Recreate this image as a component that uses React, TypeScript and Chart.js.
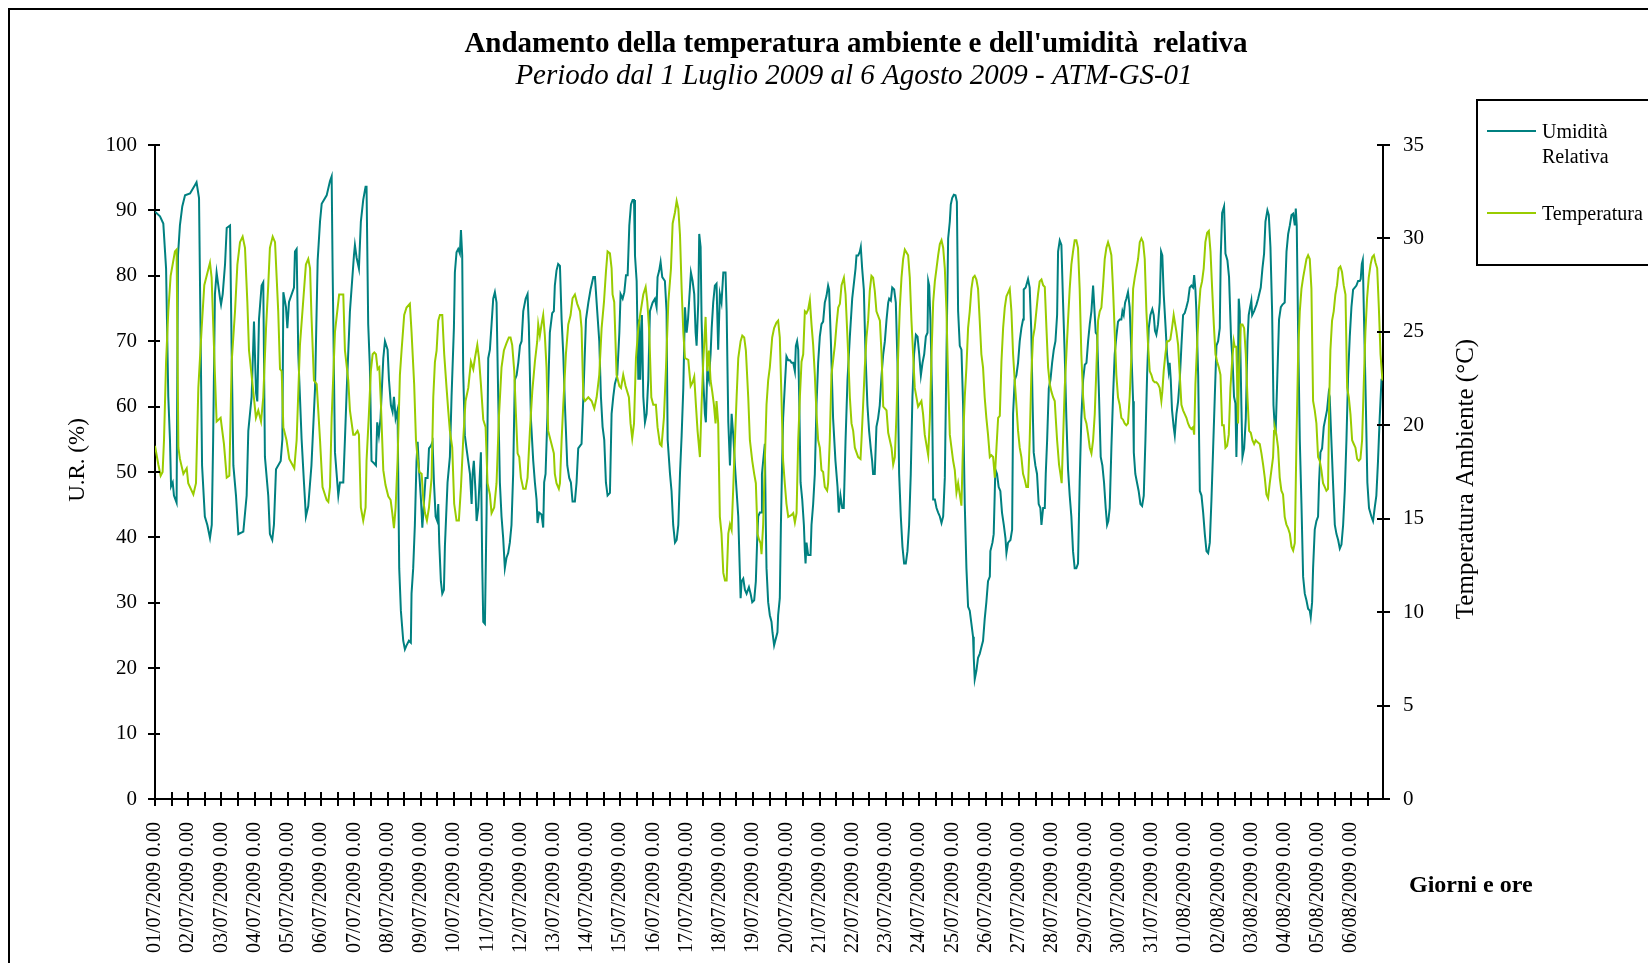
import React, { useEffect, useRef } from "react";
import { Chart, registerables } from "chart.js";

Chart.register(...registerables);

const FONT = "'Liberation Serif', 'Times New Roman', serif";
const TEAL = "#008080";
const LIME = "#99CC00";

const TITLE = "Andamento della temperatura ambiente e dell'umidità  relativa";
const SUBTITLE = "Periodo dal 1 Luglio 2009 al 6 Agosto 2009 - ATM-GS-01";
const RH_LABEL = "Umidità";
const RH_LABEL2 = "Relativa";
const T_LABEL = "Temperatura";
const X_TITLE = "Giorni e ore";
const Y_TITLE = "U.R. (%)";
const Y1_TITLE = "Temperatura Ambiente (°C)";

const dayLabels = [
  "01/07/2009 0.00", "02/07/2009 0.00", "03/07/2009 0.00", "04/07/2009 0.00",
  "05/07/2009 0.00", "06/07/2009 0.00", "07/07/2009 0.00", "08/07/2009 0.00",
  "09/07/2009 0.00", "10/07/2009 0.00", "11/07/2009 0.00", "12/07/2009 0.00",
  "13/07/2009 0.00", "14/07/2009 0.00", "15/07/2009 0.00", "16/07/2009 0.00",
  "17/07/2009 0.00", "18/07/2009 0.00", "19/07/2009 0.00", "20/07/2009 0.00",
  "21/07/2009 0.00", "22/07/2009 0.00", "23/07/2009 0.00", "24/07/2009 0.00",
  "25/07/2009 0.00", "26/07/2009 0.00", "27/07/2009 0.00", "28/07/2009 0.00",
  "29/07/2009 0.00", "30/07/2009 0.00", "31/07/2009 0.00", "01/08/2009 0.00",
  "02/08/2009 0.00", "03/08/2009 0.00", "04/08/2009 0.00", "05/08/2009 0.00",
  "06/08/2009 0.00",
];

// Hours since 01/07/2009 0.00 and relative humidity (%)
const rhHours = [
  0, 3.6, 6, 8, 9.6, 10.8, 11.6, 12.8, 13.7, 15.6, 16.6, 18, 19.7, 21.7, 25.3, 28.9, 30, 31.8, 34, 36,
  37.8, 39.7, 41, 42, 43.3, 44.5, 47, 47.7, 48.9, 50.6, 51.8, 54.2, 55.4, 56.6, 58.5, 60.2, 63.8, 66.2, 67.4, 69.8,
  71.5, 73, 73.9, 75.1, 77, 78.2, 79.4, 81.8, 83, 84.7, 85.9, 87.4, 90.8, 92, 92.7, 94.6, 95.6, 96.8, 100.4, 101.1,
  102.3, 103.5, 105.9, 107.6, 109, 110.7, 113, 115.6, 117.5, 119.2, 120.4, 124, 126.4, 127.6, 128.3, 130, 132.4, 133.6, 136, 137.2,
  138.4, 140.8, 143.7, 144.4, 145.6, 147.3, 148.7, 150.4, 152.1, 152.8, 154, 155.2, 156.4, 158.4, 159.6, 160.5, 161.7, 162.9, 164.9, 166.1,
  168, 169, 170.4, 171.6, 172.6, 173.8, 175.2, 176.4, 177.6, 179.3, 180.5, 181.7, 183.4, 184.8, 185.3, 186.5, 187.7, 188.9, 189.7, 190.9,
  192.1, 193.1, 194.2, 195.4, 196.9, 197.9, 199.3, 200.5, 201.5, 202.7, 203.9, 204.6, 205.3, 206.5, 207.5, 208.7, 209.4, 211.3, 213, 214.2,
  215.9, 216.6, 217.8, 219, 220.2, 221, 221.9, 222.6, 223.8, 225, 227.5, 228.7, 229.4, 230.3, 231.5, 232.3, 233.5, 235.4, 236.4, 237.1,
  238.3, 239.5, 240.7, 241.9, 243.1, 244.3, 245.5, 246.7, 247.9, 249.1, 250.3, 251.5, 252.7, 253.9, 255.1, 256.3, 257.5, 258.7, 259.9, 261.2,
  262.4, 263.6, 264.8, 266, 267.7, 269.1, 270, 271.5, 273.2, 274.4, 275.6, 276.3, 277.5, 279.2, 280.4, 281.1, 282.1, 283.5, 285.2, 286.9,
  288.1, 288.8, 290, 291.2, 292.5, 293.7, 294.9, 296.1, 297.8, 299.2, 300.4, 301.6, 303.3, 304.5, 305.7, 307, 308.1, 309.4, 311.3, 313,
  314.6, 316.6, 317.8, 319, 320.9, 322.1, 323.3, 324.5, 325.7, 326.9, 328.6, 329.8, 331, 332.2, 333.9, 335.4, 336.3, 337.8, 339, 340.2,
  341.4, 342.6, 343.8, 345, 346, 346.7, 347.9, 349.1, 349.8, 350.5, 351.7, 352.7, 353.9, 355.1, 356.3, 357.5, 359.4, 361.1, 362.3, 363,
  364.2, 365.2, 366.4, 368.3, 369.5, 370.3, 372, 373.1, 374.3, 375.6, 376.8, 378, 379.2, 380.4, 381.6, 382.8, 384, 385, 385.9, 387.1,
  388.3, 389.5, 390.5, 391.2, 392.4, 393.1, 394.1, 394.8, 396, 397.2, 397.9, 398.9, 400.1, 401.3, 402.1, 403.2, 404.4, 405.6, 406.8, 408,
  409.2, 410.5, 412.1, 412.9, 414.1, 415.3, 416.5, 417.7, 418.9, 420.1, 421.3, 422, 423, 423.7, 424.9, 426.1, 427.3, 429, 430.2, 431.4,
  432.8, 434, 435, 435.7, 436.9, 437.9, 438.4, 439.3, 440.5, 441.2, 441.7, 442.9, 444.1, 445.3, 446, 447.2, 448.4, 449.6, 450.1, 451.3,
  452.1, 453, 453.7, 455, 456.1, 457.4, 458.6, 459.8, 461, 462.2, 462.9, 463.8, 464.6, 465.3, 466.3, 467.5, 468.7, 469.4, 469.9, 470.6,
  471.8, 473.5, 474.2, 475.4, 476.6, 477.8, 479, 480.2, 481.4, 482.6, 483.8, 485, 486.2, 486.9, 488.2, 489.8, 491.5, 493, 493.9, 495.1,
  496.4, 497.5, 498.8, 500.2, 501.9, 503.6, 505, 506, 506.7, 507.9, 509.1, 509.8, 510.8, 512, 513.2, 514.6, 515.8, 517, 518, 518.7,
  519.9, 521.1, 522.3, 523.5, 524.8, 526, 527.2, 528.4, 529.6, 530.3, 531.5, 532.5, 533.9, 535.1, 536.3, 537.5, 538.7, 539.9, 541.1, 542.3,
  543.5, 544.7, 545.9, 547.1, 548.3, 549.6, 550.8, 552, 553.2, 554.4, 555.6, 556.8, 558, 558.5, 559.2, 560.1, 561.3, 562.1, 563.3, 564.5,
  565.7, 566.9, 568.1, 569.3, 570.5, 571.7, 572.9, 574.1, 574.8, 575.8, 577, 578.2, 579.2, 580.1, 581.3, 582.5, 583.7, 584.9, 586.1, 587.3,
  588.5, 589.7, 590.9, 591.4, 592.1, 593.3, 594.5, 595.7, 596.9, 598.1, 599.3, 600.5, 601.7, 603, 603.4, 604.9, 605.8, 606.6, 607, 608.2,
  609.4, 610.6, 611.8, 613.1, 614.3, 615, 616.2, 617.9, 619.1, 619.8, 621, 622.2, 623.4, 624.6, 625.8, 627, 627.5, 628.9, 630.6, 631.8,
  633, 633.8, 634.7, 635.9, 637.1, 638.3, 639.5, 640.3, 641.5, 642.7, 643.4, 644.4, 645.6, 646.8, 648, 649.2, 650.4, 651.6, 652.3, 653.5,
  654.7, 655.9, 657.1, 658.3, 659.5, 660.7, 661.9, 663.1, 664.3, 665.5, 666.7, 667.9, 669.1, 670.4, 671.6, 672.8, 674, 675.2, 676.4, 677.6,
  678.3, 679.5, 680.5, 681.9, 683.1, 684.3, 685.5, 686.7, 687.7, 688.6, 689.6, 690.8, 692, 693.2, 694.4, 695.6, 696.8, 698, 698.8, 699.7,
  700.7, 701.6, 702.8, 704, 705.3, 706.5, 707, 708.1, 709.3, 710.5, 711.8, 713, 714.2, 715.4, 716.6, 717.8, 719, 720.4, 721.4, 722.3,
  723.3, 724.5, 725.7, 726.7, 727.6, 728.6, 730, 731, 732.2, 732.9, 733.7, 734.6, 735.8, 736.6, 737.8, 739, 740.2, 741.4, 742.6, 743.8,
  745, 746.2, 747.4, 748.6, 749.8, 750.6, 751.5, 752.2, 753.5, 754.7, 755.9, 757.1, 758.3, 759.5, 760.7, 761.9, 763.1, 764.3, 765.5, 766.7,
  767.9, 769.1, 769.8, 770.8, 772.2, 773.2, 774.6, 775.8, 777.2, 778.4, 779.4, 780.4, 781.1, 781.9, 782.8, 783.5, 784.7, 785.5, 786.7, 787.9,
  789.1, 790, 791, 791.9, 792.5, 793.9, 795.6, 796.8, 798.7, 799.9, 801.1, 802.1, 803.5, 804.5, 805.7, 806.9, 807.9, 808.8, 809.5, 810.7,
  811.9, 813.2, 814.4, 816, 817.3, 818.5, 819.7, 820.9, 822.1, 823.3, 824, 824.7, 825.7, 826.9, 828.1, 829.3, 830.5, 831.7, 832.9, 834.1,
  834.8, 835.8, 836.5, 837.7, 838.9, 840.1, 840.8, 841.8, 843, 844.2, 845.4, 846.6, 847.8, 848.5, 849.7, 850.9, 852.2, 853.4, 854.6, 855.8,
  857, 858.2, 859.4, 860.6, 861.8, 863, 864.2, 865.4, 866.6, 867.8, 869, 870.2, 870.9, 871.7, 872.4, 873.3, 874.5, 875.7, 876.9, 878.6,
  879.8, 881, 882.2, 883.4, 884.6, 885.9, 886.6,
];
const rhValues = [
  89.8, 89.1, 88, 81.1, 61.5, 55, 47.8, 48.4, 46.4, 45.3, 83.1, 87.7, 90.6, 92.3, 92.6, 93.9, 94.3, 91.9, 51, 43.2,
  41.9, 39.9, 41.9, 54.9, 77.2, 80.5, 76.5, 75.6, 77.2, 81.8, 87.3, 87.7, 68, 51, 46.4, 40.5, 40.9, 46.4, 56.3, 61.5,
  73, 62.1, 60.8, 73.3, 78.5, 79, 52.3, 46.4, 40.5, 39.6, 41.9, 50.4, 51.7, 55, 77.5, 75.2, 72, 76, 78.2, 83.7,
  84.1, 68, 55, 48.4, 43.2, 44.8, 51, 62.8, 82.4, 88.3, 91, 92.3, 94.5, 95.2, 81, 53, 46.4, 48.4, 48.4, 55,
  62.1, 74.6, 83.1, 84.7, 82.8, 81.1, 88.3, 91.6, 93.6, 93.6, 72.6, 66.1, 51.7, 51.3, 51, 57.6, 55.6, 58.2, 67.4, 70,
  68.7, 64.1, 60.2, 59.2, 61.5, 58.2, 59.5, 35.3, 28.8, 24.2, 22.9, 23.5, 24.2, 23.9, 31.4, 35.3, 41.9, 51.7, 54.6, 49.7,
  45.8, 41.5, 45.1, 49.1, 49.1, 53.6, 54, 54.6, 48.4, 43.2, 42.5, 45.1, 39.2, 33.3, 31.4, 32, 38.6, 48.4, 52.3, 61.5,
  72, 80.5, 83.6, 84.1, 83.4, 87, 83.1, 65.4, 55.6, 53.6, 49.7, 45.1, 49.7, 51.7, 47.1, 42.5, 44.5, 53, 35.3, 27.1,
  26.8, 43.8, 67.4, 68.7, 72.6, 76.5, 77.5, 75.9, 61.5, 48.4, 43.2, 39.9, 35.3, 36.9, 37.6, 39.2, 41.9, 49.7, 64.1, 64.8,
  66.7, 69.3, 70, 74.6, 76.5, 77.2, 72.6, 58.2, 51.7, 48.4, 45.8, 42.2, 43.8, 43.5, 41.5, 48.4, 49.7, 58.9, 71.3, 74.3,
  74.6, 78.5, 80.8, 81.8, 81.5, 73.3, 68, 60.2, 51, 49.1, 48.4, 45.5, 45.5, 48.4, 53.6, 54, 54.3, 61.5, 73.3, 75.9,
  77.9, 79.8, 79.8, 75.9, 70, 61.5, 56.9, 54.9, 48.4, 46.4, 46.8, 58.9, 61.5, 63.5, 64.8, 71.3, 77.2, 76.5, 77.5, 80.1,
  80.1, 87.7, 90.9, 91.6, 91.6, 83.1, 79.2, 64.1, 73.3, 64.1, 74, 61.5, 57.6, 58.9, 64.1, 74.6, 75.9, 76.5, 75.2, 79.8,
  80.8, 82.1, 79.8, 79.2, 74.6, 54.9, 49.7, 47.1, 41.9, 39.2, 39.6, 41.9, 49.7, 55.6, 62.8, 75.2, 71.3, 73.3, 76.5, 80.5,
  79.2, 77.2, 71.3, 69.3, 75.9, 86.4, 84.4, 73.3, 64.1, 58.9, 57.6, 65.4, 64.1, 68, 72, 75.9, 78.5, 78.8, 68.7, 77.2,
  75.9, 80.5, 80.5, 74.6, 57.6, 51, 58.9, 55.6, 51, 47.1, 43.2, 37.9, 30.7, 33.3, 33.7, 32, 31.4, 32.4, 31.4, 30.1,
  30.4, 33.3, 39.9, 43.2, 43.8, 43.8, 49.7, 51.7, 54.3, 41.9, 35.3, 30.1, 28.1, 27.1, 25.5, 23.5, 24.5, 25.5, 28.1, 30.7,
  41.9, 51.7, 58.2, 63.5, 67.7, 67.1, 67.1, 66.7, 66.7, 65.4, 69.3, 70, 68.7, 61.5, 48.4, 45.8, 41.9, 37.9, 36, 39.2,
  37.3, 37.3, 41.9, 45.1, 49.7, 60.2, 66.7, 70.7, 72.6, 73, 75.9, 76.9, 78.5, 77.9, 70, 58.2, 51.7, 47.7, 43.8, 46.4,
  44.5, 44.5, 54.9, 64.1, 70.7, 76.5, 79.2, 81.1, 83.1, 83.1, 83.7, 84.4, 81.1, 77.9, 68, 60.2, 56.3, 53.6, 51.7, 49.7,
  49.7, 56.9, 58.2, 60.2, 64.8, 68, 70, 73.3, 75.9, 76.5, 76.2, 78.2, 77.9, 75.9, 66.7, 49.7, 43.2, 38.6, 36, 36,
  37.9, 41.9, 49.7, 61.5, 68, 71, 70.7, 68, 64.8, 66.7, 68, 70.7, 71.3, 79.2, 78.5, 73.3, 61.5, 45.8, 45.8, 44.5,
  43.8, 43.2, 42.2, 43.2, 49.1, 68, 85.7, 88.3, 90.9, 91.9, 92.4, 92.3, 91.3, 74.6, 69.3, 68.7, 60.2, 45.1, 35.3, 29.4,
  28.8, 26.8, 24.8, 21.6, 18.3, 19.6, 21.6, 22.2, 23.2, 24.2, 27.5, 30.1, 33.3, 34, 37.9, 39.2, 40.5, 47.1, 50.4, 49.7,
  47.7, 47.1, 43.8, 41.9, 39.9, 37.6, 39.2, 39.6, 41.2, 58.9, 64.1, 64.8, 66.7, 70, 72, 73.3, 77.9, 78.2, 79.5, 78.2,
  71.3, 61.5, 53, 51, 49.7, 45.1, 44.5, 41.9, 44.5, 44.5, 49.7, 54.9, 62.8, 64.1, 66.7, 68.7, 70, 74, 83.7, 85.4,
  84.7, 75.9, 68, 58.2, 50.4, 46.4, 43.2, 37.9, 35.3, 35.3, 36, 48.4, 58.2, 64.1, 66.4, 66.7, 70, 72.6, 74.6, 78.5,
  75.9, 71.3, 71, 61.5, 52.3, 51, 48.4, 44.5, 41.9, 42.5, 44.5, 53.6, 61.5, 68, 70.7, 73, 73.3, 73.3, 74.6, 74,
  75.9, 76.5, 77.5, 75.2, 68, 60.8, 53, 49.7, 48.4, 47.1, 45.1, 44.8, 46.4, 54.9, 64.8, 72, 74, 74.9, 74, 71.6,
  71, 72.6, 75.9, 83.7, 83.1, 77.2, 72, 68, 65.4, 66.7, 64.1, 59.5, 56.9, 55.6, 58.9, 60.8, 64.1, 69.3, 74, 74.3,
  75.2, 76.2, 78.2, 78.5, 78.2, 80.1, 77.9, 74.6, 64.8, 47.1, 46.4, 43.8, 40.5, 37.9, 37.6, 39.2, 45.8, 53.6, 61.5, 69.3,
  70, 72, 83.1, 89.6, 90.6, 83.4, 82.4, 79.8, 70.7, 66.7, 61.5, 60.5, 52.3, 60.2, 76.5, 74.6, 60.2, 52.3, 53.6, 58.2,
  70, 74, 75.2, 76.2, 74, 74.6, 75.6, 76.5, 78.2, 81.1, 83.4, 88.3, 90, 89.3, 84.4, 74.6, 60.2, 56.9, 56.3, 64.8,
  73.3, 75.2, 75.6, 75.9, 83.7, 86.4, 87.7, 89.3, 89.5, 87.7, 90.3, 87.7, 71.3, 54.9, 45.1, 34, 31.4, 30.4, 29.1, 28.8,
  27.8, 30.1, 35.3, 41.2, 42.5, 43.2, 48.4, 53, 53.6, 56.9, 58.2, 59.5, 62.1, 61.5, 54.9, 48.4, 41.9, 40.5, 39.6, 38.3,
  38.9, 41.9, 47.1, 54.9, 64.8, 70.7, 75.2, 77.9, 78.2, 78.5, 79.2, 79.2, 79.5, 81.8, 82.4, 73.3, 61.5, 48.4, 44.5, 43.2,
  42.5, 44.5, 46.4, 51.7, 58.2, 64.1, 64.1,
];

// Hours since 01/07/2009 0.00 and ambient temperature (°C)
const tempHours = [
  0, 2.4, 4.1, 5.5, 6.5, 8, 9.6, 11.3, 14.4, 15.6, 16.9, 18, 20.5, 22.9, 24, 27.7, 29.6, 31.3, 33.7, 35.6,
  39.7, 40.9, 43.3, 44.5, 47.4, 49.8, 51.8, 53.7, 55.4, 57.8, 59.5, 61.4, 63.3, 65, 66.7, 67.9, 71, 72.9, 74.6, 76.6,
  78.2, 80.2, 81.8, 83, 85, 86.7, 89, 90.3, 91.5, 92.7, 95, 97, 100.6, 102.3, 104.7, 107, 109, 110.7, 112, 113,
  114.8, 116.8, 119.2, 121, 124, 125.2, 126.4, 127.6, 130, 133, 136, 137.2, 139.6, 140.8, 143.2, 144.4, 146.3, 147.3, 148.7, 150.4,
  152.1, 152.8, 154.5, 155.9, 157.2, 158.4, 159.6, 160.8, 162, 163.2, 164.9, 166.5, 168.5, 170.2, 171.4, 172.6, 173.8, 175.2, 176.9, 178.1,
  180, 181.7, 184.1, 185.3, 187.2, 188.5, 189.7, 190.9, 192.6, 193.8, 195, 196.4, 197.9, 199.8, 201, 202.2, 203.4, 204.6, 205.8, 207.5,
  208.9, 210.6, 211.8, 213, 214.7, 216.1, 217.8, 219.5, 221, 222.6, 224.3, 226.3, 228.2, 229.9, 231.1, 232.8, 234, 235.4, 237.1, 238.8,
  240.2, 241.9, 243.1, 245, 246.7, 248.4, 250.3, 252, 253.9, 255.6, 256.8, 258, 259.5, 260.7, 261.9, 263.1, 264.3, 266, 267.7, 269.1,
  270.8, 272.5, 274.4, 276.1, 276.8, 278, 279.2, 280.4, 281.6, 282.8, 284, 286.4, 288.1, 288.8, 290, 291.7, 292.5, 293.7, 294.9, 296.8,
  298.5, 300.2, 301.6, 303.3, 305, 307, 308.1, 309.4, 310.6, 313, 315.4, 317.3, 319, 320.9, 322.6, 324.3, 325.7, 326.9, 328.6, 329.8,
  330.5, 331.7, 333.4, 335.4, 336.6, 338.2, 339.9, 341.1, 342.3, 343.5, 344.7, 346, 347.4, 349.1, 350.8, 352.7, 354.4, 355.6, 357, 358.5,
  359.9, 361.8, 363, 364.7, 365.9, 367.6, 369.1, 370.8, 372.7, 373.9, 375.6, 376.8, 378, 379.2, 380.4, 381.6, 382.8, 385.2, 386.9, 388.3,
  389.5, 390.7, 391.9, 393.6, 394.8, 396, 397.7, 398.9, 400.1, 401.3, 402.5, 403.7, 404.9, 405.6, 406.8, 408, 409.2, 410.5, 411.7, 412.9,
  414.1, 415.3, 416.5, 417.7, 418.9, 420.1, 421.3, 423, 424.2, 425.6, 426.8, 428.5, 429.7, 431.4, 432.8, 434, 435.2, 436.2, 437.4, 438.1,
  439.3, 440.5, 441.7, 442.9, 444.1, 445.8, 447.2, 448.9, 450.1, 451.3, 452.5, 453.7, 454.9, 456.1, 457.4, 459.8, 461, 462.2, 463.4, 464.6,
  465.8, 467, 468.2, 469.4, 470.6, 471.8, 473, 474.2, 475.4, 476.6, 477.8, 479, 480.2, 481.4, 482.6, 483.8, 485.5, 486.2, 487.4, 488.6,
  491.1, 492.3, 493.5, 494.7, 495.9, 497.6, 498.8, 500.7, 501.9, 503.1, 504.3, 505.5, 507.9, 509.6, 510.3, 511.5, 512.7, 513.9, 515.1, 516.3,
  517.5, 518.7, 519.9, 521.1, 523.6, 524.8, 526, 528.4, 529.6, 532, 533.2, 534.4, 535.6, 536.8, 538, 539.2, 540.4, 541.6, 544, 545.2,
  546.4, 547.6, 548.8, 551.2, 553.6, 554.8, 556, 558.5, 559.7, 560.9, 562.1, 563.3, 564.5, 565.7, 566.9, 568.1, 569.3, 570.5, 571.7, 572.9,
  574.1, 576.5, 577.7, 578.9, 580.1, 581.3, 582.5, 583.7, 584.9, 586.1, 587.3, 588.5, 589.7, 590.9, 592.1, 593.3, 594.5, 595.7, 596.9, 598.1,
  599.3, 600.5, 601.7, 603, 604.1, 605.4, 606.6, 607.8, 609, 610.2, 611.4, 612.6, 613.8, 615, 616.2, 617.4, 618.6, 619.8, 621, 622.2,
  623.4, 624.6, 625.8, 627, 628.2, 629.4, 630.6, 631.8, 633, 634.2, 635.4, 636.6, 637.8, 639, 640.3, 641.5, 642.7, 643.9, 645.1, 646.3,
  647.5, 648.7, 649.9, 650.6, 651.6, 653, 654, 654.9, 655.9, 657.1, 658.3, 659.5, 660.7, 661.9, 663.1, 664.3, 665.5, 666.7, 667.9, 669.1,
  670.4, 671.6, 672.8, 674, 675.2, 676.4, 677.6, 678.8, 680, 681.2, 682.4, 683.6, 684.8, 686, 687.2, 688.4, 689.6, 690.8, 692, 693.2,
  694.4, 695.6, 696.8, 698, 699.2, 700.4, 701.6, 702.8, 704, 705.3, 706.5, 707.7, 708.9, 710.1, 711.3, 712.5, 713.7, 714.9, 716.1, 717.3,
  718.5, 719.7, 720.9, 722.1, 723.3, 724.5, 725.7, 726.9, 727.6, 728.6, 729.8, 731, 732.2, 733.4, 734.6, 735.8, 737.8, 739, 740.2, 741.4,
  742.6, 743.8, 745, 746.2, 747.4, 748.6, 749.8, 750.6, 751.5, 752.7, 753.9, 755.1, 756.3, 757.5, 758.7, 760, 761.2, 762.4, 763.6, 764.8,
  766, 767.2, 768.4, 769.6, 770.8, 772, 773.2, 774.4, 775.6, 776.8, 778, 779.2, 779.9, 781.1, 782.3, 783, 784.3, 785.5, 786.7, 787.9,
  789.1, 790.3, 791.5, 792.7, 793.9, 795.1, 796.3, 798, 799.2, 800.4, 801.6, 802.8, 804, 805.2, 806.4, 807.6, 808.3, 808.8, 810, 811.2,
  812.4, 813.6, 814.8, 816, 817.2, 818.4, 819.7, 820.9, 822.1, 823.3, 824.5, 825.7, 826.9, 828.1, 829.3, 830.5, 831.7, 832.9, 834.1, 835.3,
  836.5, 837.7, 838.9, 840.1, 841.3, 842.5, 843.7, 844.9, 846.1, 847.3, 848.1, 849, 850.2, 851.4, 852.6, 853.8, 855, 856.2, 857.4, 858.6,
  859.9, 861.1, 862.3, 863.5, 864.7, 865.9, 867.1, 868.3, 869.5, 870.7, 871.9, 873.1, 874.3, 875.5, 876.7, 878, 879.2, 880.4, 881.6, 882.8,
  884, 885.2, 886.6,
];
const tempValues = [
  18.9, 17.9, 17.3, 17.5, 19.2, 23.4, 26.1, 28, 29.3, 29.4, 18.8, 18.2, 17.4, 17.7, 16.9, 16.3, 16.9, 22, 25.2, 27.5,
  28.7, 27.9, 22.7, 20.2, 20.4, 19, 17.2, 17.3, 23.4, 26.1, 28.6, 29.8, 30.1, 29.5, 26.6, 24, 21.8, 20.4, 20.8, 20.2,
  21.5, 25.2, 27.5, 29.5, 30.1, 29.8, 26.1, 23, 22.9, 19.9, 19.2, 18.2, 17.7, 19.2, 24.3, 26.6, 28.6, 28.9, 28.4, 25.9,
  22.4, 22.2, 19.2, 16.7, 16, 15.9, 16.7, 20.4, 25, 27, 27, 24, 22.4, 20.8, 19.5, 19.5, 19.7, 19.5, 15.6, 14.9,
  15.6, 18.1, 20.6, 22.9, 23.8, 23.9, 23.8, 23, 23.1, 21.1, 17.6, 16.8, 16.2, 16, 15.3, 14.5, 15.6, 18.1, 22.7, 24,
  25.9, 26.3, 26.5, 25, 22.2, 19.2, 18.2, 17.5, 17.4, 16, 15.3, 14.9, 15.6, 17.2, 21.5, 23.4, 24, 25.6, 25.9, 25.9,
  23.8, 22, 20.8, 19.7, 18.8, 15.8, 14.9, 14.9, 16.7, 19.2, 21.3, 22, 23.4, 23, 23.6, 24.3, 23.6, 22.2, 20.3, 19.9,
  16.9, 16.3, 15.3, 15.6, 16.9, 20.4, 23.1, 24, 24.4, 24.7, 24.7, 24.3, 22.9, 20.6, 18.5, 18.3, 17.2, 16.6, 16.6, 17.2,
  19.7, 21.8, 23.4, 24.5, 25.4, 24.8, 25.4, 25.9, 24.8, 23.1, 19.7, 19, 18.5, 17.4, 16.9, 16.6, 16.9, 19.2, 21.1, 23.8,
  25.4, 25.9, 26.8, 27, 26.5, 26.1, 25.2, 21.5, 21.3, 21.5, 21.3, 20.9, 21.5, 22.7, 25.2, 26.6, 28.2, 29.3, 29.2, 28.4,
  27, 26.6, 22.7, 22.1, 22, 22.7, 22.1, 21.8, 21.5, 20.1, 19.3, 20.1, 23.6, 25.2, 26.1, 27, 27.4, 26.6, 25, 21.5,
  21.1, 21.1, 19.9, 19, 18.9, 20.4, 23.1, 26.6, 28.4, 30.8, 31.4, 32, 31.6, 30.2, 27.3, 25, 23.6, 23.5, 22.1, 22.3,
  22.6, 21.1, 19.7, 18.3, 21.1, 23.4, 25.8, 22.9, 24, 22.4, 21.8, 21.1, 20.1, 21.3, 20.1, 15.1, 14.2, 12.1, 11.7, 11.7,
  14.2, 14.7, 14.4, 16.7, 19.2, 21.5, 23.6, 24.5, 24.8, 24.7, 24, 21.5, 19.2, 18.1, 17.4, 16.9, 14.2, 13.9, 13.7, 13.1,
  14.7, 18.1, 21.1, 22.4, 23.1, 24.7, 25.2, 25.5, 25.6, 24.7, 21.5, 18.1, 16.9, 15.8, 15.1, 15.2, 15.3, 14.8, 15.3, 19.2,
  21.5, 23.4, 23.8, 26.1, 26, 26.2, 26.7, 25.4, 24.3, 22.7, 20.6, 19.2, 18.8, 17.6, 17.5, 16.7, 16.5, 16.9, 19.2, 22.7,
  24.3, 25.4, 26.3, 26.5, 27.5, 27.9, 27, 23.8, 21.5, 20.1, 19.7, 18.8, 18.3, 18.2, 19.2, 21.1, 23.1, 24.7, 25.6, 27.2,
  28, 27.9, 27.2, 26.1, 25.6, 23.8, 21, 20.8, 19.6, 18.8, 17.9, 18.3, 20.6, 23.8, 26.3, 27.9, 28.9, 29.4, 29.1, 27.9,
  25.6, 23.8, 22, 21, 21.3, 20.6, 19.5, 18.4, 20.4, 23.8, 26.6, 27.7, 28.4, 29.1, 29.7, 29.9, 29.5, 28.4, 26.1, 22.4,
  19.5, 18.1, 17.6, 16.4, 16.9, 16.3, 15.7, 19.2, 21.5, 23.1, 25.2, 26.1, 27.3, 27.9, 28, 27.8, 27.3, 25.6, 23.8, 23.1,
  21.5, 20.4, 19.5, 18.3, 18.4, 18.3, 17.2, 18.8, 20.4, 20.5, 23.4, 25.2, 26.3, 26.9, 27.1, 27.3, 26.1, 23.8, 22.4, 21.1,
  19.7, 18.8, 18.3, 17.4, 17.1, 16.7, 16.7, 19.2, 22.7, 24.7, 25.2, 26.1, 27, 27.7, 27.8, 27.5, 27.4, 25.2, 23.1, 22.2,
  21.8, 21.5, 21.3, 20.4, 19.2, 17.9, 17.4, 16.9, 19.2, 22, 23.8, 25.6, 27.3, 28.6, 29.3, 29.9, 29.9, 29.5, 27.3, 23.8,
  21.5, 20.4, 20.1, 19.5, 18.8, 18.5, 19.2, 20.6, 23.1, 25.6, 26.1, 26.3, 27.5, 28.9, 29.5, 29.8, 29.5, 29.1, 27.3, 25,
  22.7, 21.5, 21.1, 20.4, 20.3, 20.1, 20, 20.1, 21.5, 23.8, 27.3, 27.9, 28.4, 28.9, 29.8, 30, 29.8, 28.9, 26.1, 24.3,
  22.9, 22.7, 22.4, 22.3, 22.3, 22.2, 22, 21.3, 21.8, 22.9, 23.8, 24.5, 24.5, 24.6, 25.2, 25.9, 25, 24.3, 22.7, 21.1,
  20.8, 20.6, 20.4, 20.1, 19.9, 19.8, 19.9, 19.5, 22.2, 24.3, 26.1, 27.3, 27.7, 28.4, 29.8, 30.3, 30.4, 29.3, 27.3, 25.4,
  23.8, 23.4, 23.1, 22.7, 20, 20, 18.8, 18.9, 19.5, 22, 23.4, 24.5, 24.2, 24.2, 20.1, 22.9, 25.4, 25.4, 25.2, 23.8,
  21.5, 19.7, 19.6, 19.2, 19, 19.2, 19.1, 19, 18.5, 17.9, 17.2, 16.3, 16.1, 16.9, 17.6, 18.3, 19.7, 19.9, 19.5, 18.8,
  17.2, 16.5, 16.3, 15.1, 14.7, 14.5, 14.2, 13.5, 13.3, 13.7, 19.2, 23.8, 26.1, 27.3, 27.9, 28.4, 28.9, 29.1, 28.9, 27.3,
  21.3, 20.8, 20.1, 18.3, 18.1, 17.6, 16.9, 16.7, 16.5, 16.6, 21.1, 24, 25.6, 26.1, 27, 27.5, 28.4, 28.5, 28.2, 27.5,
  27, 22, 21.5, 20.6, 19.2, 19, 18.8, 18.2, 18.1, 18.2, 19.2, 22.2, 25, 26.8, 27.9, 28.6, 29, 29.1, 28.7, 28.4,
  26.3, 23.8, 22.4,
];

const CANVAS_W = 1640;
const CANVAS_H = 955;
const PLOT_LEFT = 147;
const PLOT_RIGHT = 1375;
const PLOT_TOP = 137;
const PLOT_BOTTOM = 791;

const decorPlugin = {
  id: "decor",
  afterDraw(chart: any) {
    const ctx = chart.ctx as CanvasRenderingContext2D;
    const ca = chart.chartArea;
    const { x, y, y1 } = chart.scales;
    ctx.save();
    ctx.strokeStyle = "#000";
    ctx.fillStyle = "#000";

    // outer frame (only left and top visible)
    ctx.lineWidth = 2;
    ctx.beginPath();
    ctx.moveTo(1, CANVAS_H + 5);
    ctx.lineTo(1, 1);
    ctx.lineTo(CANVAS_W + 5, 1);
    ctx.stroke();

    // inner halves of the crossing tick marks
    ctx.lineWidth = 2;
    ctx.beginPath();
    y.ticks.forEach((t: any) => {
      const p = Math.round(y.getPixelForValue(t.value));
      ctx.moveTo(ca.left, p);
      ctx.lineTo(ca.left + 5, p);
    });
    y1.ticks.forEach((t: any) => {
      const p = Math.round(y1.getPixelForValue(t.value));
      ctx.moveTo(ca.right, p);
      ctx.lineTo(ca.right - 6, p);
    });
    x.ticks.forEach((t: any) => {
      const p = Math.round(x.getPixelForValue(t.value));
      ctx.moveTo(p, ca.bottom);
      ctx.lineTo(p, ca.bottom - 7);
    });
    ctx.stroke();

    // titles
    ctx.textAlign = "center";
    ctx.textBaseline = "alphabetic";
    ctx.font = `bold 29px ${FONT}`;
    ctx.fillText(TITLE, 848, 44);
    ctx.font = `italic 29px ${FONT}`;
    ctx.fillText(SUBTITLE, 846, 76);

    // axis titles
    ctx.textBaseline = "middle";
    ctx.font = `23px ${FONT}`;
    ctx.save();
    ctx.translate(70, 452);
    ctx.rotate(-Math.PI / 2);
    ctx.fillText(Y_TITLE, 0, 0);
    ctx.restore();
    ctx.font = `25px ${FONT}`;
    ctx.save();
    ctx.translate(1458, 471);
    ctx.rotate(-Math.PI / 2);
    ctx.fillText(Y1_TITLE, 0, 0);
    ctx.restore();

    ctx.textAlign = "left";
    ctx.textBaseline = "alphabetic";
    ctx.font = `bold 24px ${FONT}`;
    ctx.fillText(X_TITLE, 1401, 884);

    // legend box
    ctx.lineWidth = 2;
    ctx.strokeRect(1469, 92, 400, 165);
    ctx.lineWidth = 2;
    ctx.strokeStyle = TEAL;
    ctx.beginPath();
    ctx.moveTo(1479, 123);
    ctx.lineTo(1528, 123);
    ctx.stroke();
    ctx.strokeStyle = LIME;
    ctx.beginPath();
    ctx.moveTo(1479, 205);
    ctx.lineTo(1528, 205);
    ctx.stroke();
    ctx.font = `20px ${FONT}`;
    ctx.fillText(RH_LABEL, 1534, 130);
    ctx.fillText(RH_LABEL2, 1534, 155);
    ctx.fillText(T_LABEL, 1534, 212);
    ctx.restore();
  },
};

export default function App() {
  const canvasRef = useRef<HTMLCanvasElement | null>(null);

  useEffect(() => {
    if (!canvasRef.current) return;
    const rhData = rhHours.map((h, i) => ({ x: h, y: rhValues[i] }));
    const tData = tempHours.map((h, i) => ({ x: h, y: tempValues[i] }));
    const tickFont = { family: FONT, size: 21 };

    const chart = new Chart(canvasRef.current, {
      type: "line",
      data: {
        datasets: [
          {
            label: "Umidità Relativa",
            data: rhData,
            yAxisID: "y",
            borderColor: TEAL,
            borderWidth: 2,
            pointRadius: 0,
            tension: 0,
            order: 2,
          },
          {
            label: "Temperatura",
            data: tData,
            yAxisID: "y1",
            borderColor: LIME,
            borderWidth: 2,
            pointRadius: 0,
            tension: 0,
            order: 1,
          },
        ],
      },
      options: {
        animation: false,
        responsive: false,
        devicePixelRatio: 1,
        events: [],
        layout: { padding: { top: PLOT_TOP, left: 0, right: 0, bottom: 0 } },
        plugins: {
          legend: { display: false },
          title: { display: false },
          tooltip: { enabled: false },
        },
        scales: {
          x: {
            type: "linear",
            min: 0,
            max: 887,
            offset: false,
            afterFit: (s: any) => {
              s.height = CANVAS_H - PLOT_BOTTOM;
            },
            border: { display: true, color: "#000", width: 2 },
            grid: { display: true, drawOnChartArea: false, drawTicks: true, tickLength: 7, color: "#000", lineWidth: 2 },
            ticks: {
              stepSize: 12,
              includeBounds: false,
              autoSkip: false,
              minRotation: 90,
              maxRotation: 90,
              padding: 16,
              color: "#000",
              font: { family: FONT, size: 20 },
              callback: (v: any) => {
                const n = Number(v);
                if (n % 24 !== 0) return "";
                return dayLabels[n / 24] ?? "";
              },
            },
          },
          y: {
            type: "linear",
            position: "left",
            min: 0,
            max: 100,
            afterFit: (s: any) => {
              s.width = PLOT_LEFT;
            },
            border: { display: true, color: "#000", width: 2 },
            grid: { display: true, drawOnChartArea: false, drawTicks: true, tickLength: 7, color: "#000", lineWidth: 2 },
            ticks: { stepSize: 10, padding: 11, color: "#000", font: tickFont },
          },
          y1: {
            type: "linear",
            position: "right",
            min: 0,
            max: 35,
            afterFit: (s: any) => {
              s.width = CANVAS_W - PLOT_RIGHT;
            },
            border: { display: true, color: "#000", width: 2 },
            grid: { display: true, drawOnChartArea: false, drawTicks: true, tickLength: 7, color: "#000", lineWidth: 2 },
            ticks: { stepSize: 5, padding: 13, color: "#000", font: tickFont },
          },
        },
      },
      plugins: [decorPlugin],
    } as any);

    return () => chart.destroy();
  }, []);

  return (
    <div
      style={{
        position: "fixed",
        left: 8,
        top: 8,
        width: CANVAS_W,
        height: CANVAS_H,
        overflow: "hidden",
        background: "#fff",
      }}
    >
      <canvas ref={canvasRef} width={CANVAS_W} height={CANVAS_H} style={{ width: CANVAS_W, height: CANVAS_H, display: "block" }} />
    </div>
  );
}
